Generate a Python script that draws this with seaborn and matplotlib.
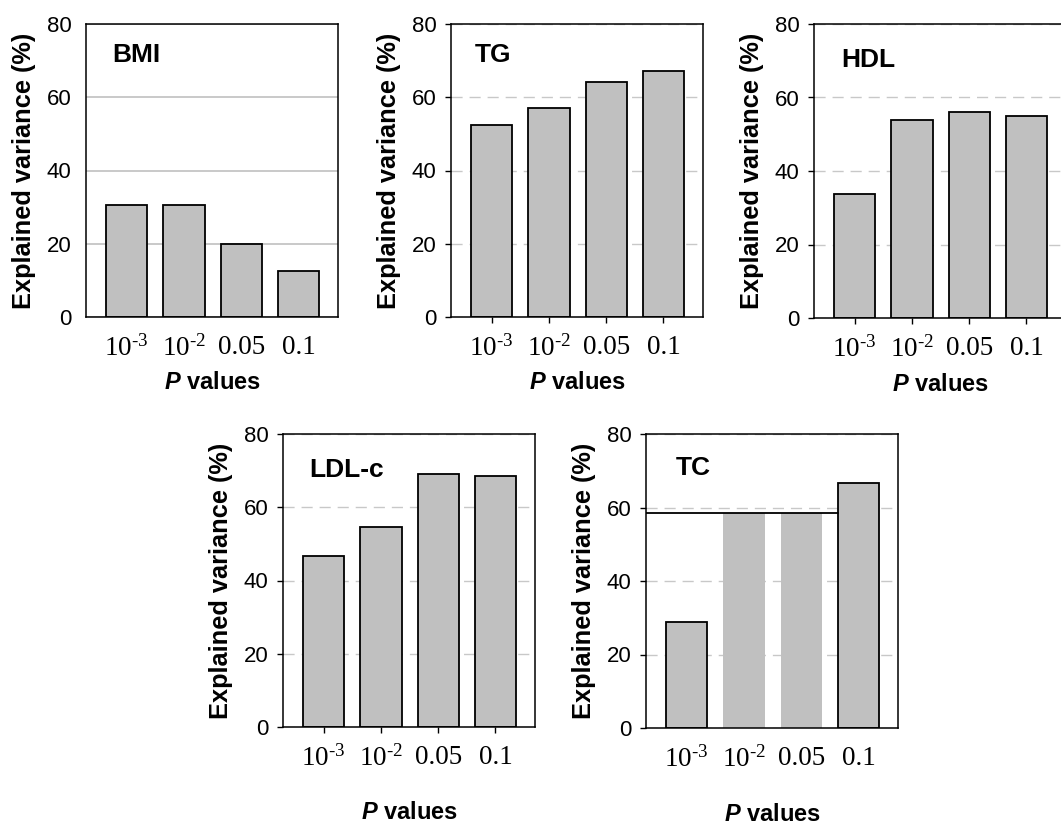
import matplotlib
matplotlib.use("Agg")
import matplotlib.pyplot as plt
import seaborn as sns
import pandas as pd

sns.set_style("white")
plt.rcParams['font.family'] = ['Liberation Sans', 'DejaVu Sans']
plt.rcParams['text.color'] = 'black'
plt.rcParams['axes.labelcolor'] = 'black'
plt.rcParams['xtick.color'] = 'black'
plt.rcParams['ytick.color'] = 'black'
plt.rcParams['mathtext.fontset'] = 'custom'
plt.rcParams['mathtext.rm'] = 'Liberation Serif'
plt.rcParams['mathtext.it'] = 'Liberation Serif:italic'
plt.rcParams['mathtext.bf'] = 'Liberation Sans:bold'
plt.rcParams['mathtext.bfit'] = 'Liberation Sans:italic:bold'

# ---- data ----
categories = ["10$^{\\text{-}3}$", "10$^{\\text{-}2}$", "0.05", "0.1"]
bmi = [30.7, 30.7, 20.0, 12.5]
tg = [52.3, 57.1, 64.2, 67.1]
hdl = [33.7, 53.9, 56.0, 55.1]
ldl = [46.8, 54.7, 69.1, 68.4]
tc = [28.8, 58.6, 58.6, 66.7]
panel_names = ["BMI", "TG", "HDL", "LDL-c", "TC"]
panel_values = [bmi, tg, hdl, ldl, tc]
yticks = [0, 20, 40, 60, 80]

W, H = 1061, 827
fig = plt.figure(figsize=(W / 100, H / 100), dpi=100)

# (left, right, top, bottom) in pixels
boxes = [
    (86, 338, 24, 317),
    (451, 703, 24, 317),
    (814, 1066, 24, 318),
    (283, 535, 434, 727),
    (646, 898, 434, 728),
]
title_pos = [(0.103, 0.894), (0.095, 0.894), (0.107, 0.877), (0.103, 0.877), (0.119, 0.884)]
xlabel_y = [-0.225, -0.225, -0.225, -0.293, -0.293]

bar_w = 0.72
xlo, xhi = -0.71, 3.69

for i, (name, vals) in enumerate(zip(panel_names, panel_values)):
    l, r, t, b = boxes[i]
    ax = fig.add_axes([l / W, 1 - b / H, (r - l) / W, (b - t) / H])
    df = pd.DataFrame({"p": categories, "v": vals})
    sns.barplot(data=df, x="p", y="v", order=categories, color="#c0c0c0",
                edgecolor="black", linewidth=1.3, width=bar_w, ax=ax,
                saturation=1, zorder=2)
    for p in ax.patches:
        p.set_facecolor("#c0c0c0")
    ax.set_xlim(xlo, xhi)
    ax.set_ylim(0, 80)
    ax.set_yticks(yticks)
    ax.set_axisbelow(True)
    if i == 0:
        ax.yaxis.grid(True, color="#c0c0c0", linestyle="-", linewidth=1.2)
    else:
        ax.yaxis.grid(True, color="#c8c8c8", linestyle=(0, (8, 5)), linewidth=1.0)
    ax.xaxis.grid(False)
    for s in ax.spines.values():
        s.set_visible(True)
        s.set_color("black")
        s.set_linewidth(1.1)

    ylen = 0 if i == 0 else 4.3
    xlen = 0 if i in (0, 4) else 4.3
    ax.tick_params(axis="y", direction="out", length=ylen, width=1, color="black",
                   labelsize=16, pad=10 - ylen + 0.5, left=True, labelcolor="black")
    ax.tick_params(axis="x", direction="out", length=xlen, width=1, color="black",
                   labelsize=19.5, pad=13 - xlen, bottom=True, labelcolor="black")
    for lab in ax.get_xticklabels():
        lab.set_fontfamily("Liberation Serif")

    ax.set_ylabel("Explained variance (%)", fontsize=18.3, fontweight="bold",
                  ha="center", va="center", color="black")
    ax.yaxis.set_label_coords(-62 / 252, 0.5)
    ax.set_xlabel(r"$\mathbfit{P}$ values", fontsize=17, fontweight="bold",
                  ha="center", va="center", color="black")
    ax.xaxis.set_label_coords(0.5, xlabel_y[i])

    ax.text(title_pos[i][0], title_pos[i][1], name, transform=ax.transAxes,
            fontsize=19, fontweight="bold", ha="left", va="center", color="black")

    if name == "TC":
        ax.patches[1].set_edgecolor("none")
        ax.patches[2].set_edgecolor("none")
        ax.axhline(vals[1], xmin=0, xmax=(3 - bar_w / 2 - xlo) / (xhi - xlo),
                   color="black", linewidth=1.3, zorder=3)

fig.savefig("out.png", dpi=100)
